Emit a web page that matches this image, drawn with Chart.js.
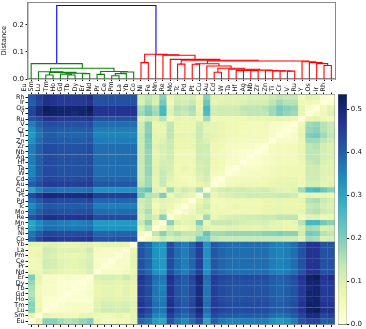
<!DOCTYPE html>
<html>
<head>
<meta charset="utf-8">
<title>Element distance clustermap</title>
<script src="https://cdn.jsdelivr.net/npm/chart.js@4.4.0/dist/chart.umd.js"></script>
<style>
  html, body { margin:0; padding:0; background:#fff; }
  #page { position:relative; width:366px; height:329px; overflow:hidden; filter:blur(.3px); }
  canvas { position:absolute; display:block; }
</style>
</head>
<body>
<div id="page">
  <canvas id="dendro" style="left:0;top:0"></canvas>
  <canvas id="heat" style="left:0;top:80px"></canvas>
  <canvas id="cbar" style="left:336px;top:80px"></canvas>
</div>
<script>
// leaf order of the dendrogram, left to right (bottom to top on the heatmap)
const leaves = ['Eu','Sm','Lu','Tm','Ho','Gd','Tb','Dy','Er','Nd','Pr','Ce','Pm','La','Yb','Co','Ni','Fe','Mn','Re','Mo','Tc','Pd','Pt','Cu','Au','Cd','W','Ta','Hf','Ag','Nb','Zr','Zn','Ti','Cr','V','Ru','Y','Os','Ir','Rh'];

// [left, right, merge height]
const ruBranch = ['Ru',['Y',['Os',['Ir','Rh',.05],.0568],.0605],.064];
const taBranch = [['Ta','Hf',.031],['Ag','Nb',.031],.032];
const zrBranch = ['Zr',['Zn',['Ti',['Cr','V',.029],.0295],.03],.0305];
const pdBranch = [['Pd','Pt',.0545],['Cu',[['Au','Cd',.025],['W',[taBranch,zrBranch,.033],.0358],.04],.048],.0565];
const redTree = [['Co','Ni',.0605],['Fe',['Mn',['Re',[['Mo','Tc',.055],[pdBranch,ruBranch,.0665],.0695],.0725],.088],.0895],.0915];
const greenTree = ['Eu',[['Sm',[['Lu','Tm',.015],[['Ho',['Gd','Tb',.015],.018],['Dy','Er',.02],.021],.0245],.027],[['Nd','Pr',.017],[[['Ce','Pm',.012],'La',.02],'Yb',.026],.028],.04],.057];
const rootHeight = .272;

// distances, lower triangle: row i holds the values against leaves 0..i-1
const distances = [
/*Eu*/[],
/*Sm*/[.07],
/*Lu*/[.19,.07],
/*Tm*/[.19,.06,.02],
/*Ho*/[.17,.06,.02,.02],
/*Gd*/[.15,.05,.03,.03,.02],
/*Tb*/[.16,.05,.03,.03,.02,.02],
/*Dy*/[.18,.07,.03,.03,.02,.02,.01],
/*Er*/[.20,.08,.03,.03,.02,.03,.02,.02],
/*Nd*/[.07,.06,.10,.09,.08,.07,.07,.08,.10],
/*Pr*/[.05,.06,.12,.11,.09,.08,.08,.09,.11,.03],
/*Ce*/[.05,.06,.12,.11,.09,.08,.08,.09,.11,.03,.02],
/*Pm*/[.06,.07,.11,.10,.08,.07,.07,.08,.10,.03,.03,.03],
/*La*/[.06,.06,.12,.11,.09,.09,.09,.09,.12,.04,.03,.03,.03],
/*Yb*/[.08,.08,.09,.09,.08,.07,.07,.08,.09,.07,.08,.08,.08,.07],
/*Co*/[.39,.44,.47,.47,.46,.46,.46,.46,.47,.42,.42,.42,.42,.42,.42],
/*Ni*/[.37,.41,.44,.44,.43,.43,.43,.43,.44,.39,.39,.39,.39,.39,.39,.04],
/*Fe*/[.31,.35,.38,.38,.37,.37,.37,.37,.38,.33,.33,.33,.33,.33,.33,.08,.14],
/*Mn*/[.30,.34,.37,.37,.36,.36,.35,.36,.37,.32,.32,.32,.32,.32,.32,.13,.19,.05],
/*Re*/[.42,.45,.48,.48,.47,.47,.47,.47,.48,.43,.43,.43,.43,.43,.43,.10,.14,.11,.19],
/*Mo*/[.37,.40,.43,.43,.42,.42,.42,.42,.43,.38,.38,.38,.38,.38,.38,.12,.16,.06,.10,.05],
/*Tc*/[.34,.38,.41,.41,.40,.40,.40,.40,.41,.36,.36,.36,.36,.36,.36,.11,.14,.05,.08,.07,.03],
/*Pd*/[.38,.41,.44,.44,.43,.43,.43,.43,.44,.39,.39,.39,.39,.39,.39,.12,.14,.07,.09,.08,.06,.04],
/*Pt*/[.43,.47,.50,.50,.49,.49,.49,.49,.50,.45,.45,.45,.45,.45,.45,.21,.15,.14,.20,.06,.10,.09,.07],
/*Cu*/[.30,.35,.38,.38,.37,.37,.37,.37,.38,.33,.33,.33,.33,.33,.33,.20,.23,.09,.07,.17,.09,.12,.10,.16],
/*Au*/[.40,.43,.46,.46,.45,.45,.45,.45,.46,.41,.41,.41,.41,.41,.41,.14,.17,.08,.13,.07,.06,.06,.05,.07,.09],
/*Cd*/[.37,.41,.44,.44,.43,.43,.43,.43,.44,.39,.39,.39,.39,.39,.39,.13,.17,.08,.13,.09,.06,.05,.05,.09,.11,.02],
/*W */[.35,.40,.43,.43,.42,.42,.42,.42,.43,.38,.38,.38,.38,.38,.38,.13,.18,.09,.13,.10,.06,.06,.06,.10,.12,.05,.04],
/*Ta*/[.35,.40,.43,.43,.42,.42,.42,.42,.43,.38,.38,.38,.38,.38,.38,.13,.18,.09,.12,.11,.06,.07,.06,.11,.12,.06,.05,.02],
/*Hf*/[.36,.40,.43,.43,.42,.42,.42,.42,.43,.38,.38,.38,.38,.38,.38,.13,.18,.08,.11,.11,.06,.06,.06,.11,.12,.06,.05,.03,.03],
/*Ag*/[.36,.40,.43,.43,.42,.42,.42,.42,.43,.38,.38,.38,.38,.38,.38,.13,.18,.08,.10,.12,.06,.06,.06,.12,.11,.06,.05,.04,.03,.02],
/*Nb*/[.36,.40,.43,.43,.42,.42,.42,.42,.43,.38,.38,.38,.38,.38,.38,.13,.18,.08,.10,.12,.06,.06,.06,.12,.11,.06,.05,.04,.03,.02,.02],
/*Zr*/[.36,.40,.43,.43,.42,.42,.42,.42,.43,.38,.38,.38,.38,.38,.38,.13,.19,.09,.11,.13,.07,.07,.07,.12,.12,.06,.06,.04,.04,.03,.03,.02],
/*Zn*/[.33,.38,.41,.41,.40,.40,.40,.40,.41,.36,.36,.36,.36,.36,.36,.13,.19,.08,.09,.13,.07,.07,.07,.12,.10,.07,.06,.05,.05,.04,.04,.04,.04],
/*Ti*/[.32,.37,.40,.40,.39,.39,.39,.39,.40,.35,.35,.35,.35,.35,.35,.13,.20,.08,.08,.14,.08,.08,.08,.13,.09,.08,.07,.06,.06,.05,.05,.05,.05,.03],
/*Cr*/[.33,.38,.41,.41,.40,.40,.40,.40,.41,.36,.36,.36,.36,.36,.36,.12,.19,.07,.07,.14,.07,.07,.07,.13,.08,.08,.07,.06,.06,.05,.05,.05,.05,.03,.02],
/*V */[.36,.40,.43,.43,.42,.42,.42,.42,.43,.38,.38,.38,.38,.38,.38,.12,.19,.07,.08,.14,.07,.07,.07,.12,.09,.08,.07,.06,.06,.05,.05,.05,.05,.03,.03,.02],
/*Ru*/[.42,.44,.47,.47,.46,.46,.46,.46,.47,.42,.42,.42,.42,.42,.42,.09,.12,.10,.15,.05,.08,.07,.08,.06,.17,.06,.06,.06,.06,.06,.07,.07,.07,.07,.08,.07,.06],
/*Y */[.44,.49,.52,.52,.51,.51,.50,.51,.52,.47,.47,.47,.47,.47,.47,.17,.21,.17,.26,.09,.14,.13,.15,.08,.25,.11,.12,.12,.12,.13,.14,.14,.14,.17,.20,.18,.17,.07],
/*Os*/[.44,.49,.53,.52,.51,.51,.51,.51,.53,.47,.47,.47,.47,.47,.47,.16,.20,.16,.26,.09,.15,.14,.16,.07,.26,.11,.12,.12,.12,.14,.14,.14,.15,.17,.21,.19,.18,.08,.03],
/*Ir*/[.40,.44,.48,.47,.46,.46,.46,.46,.47,.42,.42,.42,.42,.42,.42,.10,.15,.10,.21,.06,.12,.11,.13,.07,.22,.08,.09,.09,.09,.10,.11,.11,.11,.14,.17,.15,.15,.06,.06,.05],
/*Rh*/[.41,.45,.48,.47,.46,.46,.46,.46,.48,.42,.42,.42,.42,.42,.42,.11,.14,.11,.19,.07,.11,.10,.11,.06,.19,.09,.08,.09,.09,.09,.10,.10,.10,.12,.14,.13,.13,.05,.09,.08,.02]
];

const colorbarMax = .534;
const colorbarTicks = [0, .1, .2, .3, .4, .5];
const distanceTicks = [0, .1, .2];
const ylgnbu = ['#ffffd9','#edf8b1','#c7e9b4','#7fcdbb','#41b6c4','#1d91c0','#225ea8','#253494','#081d58'];

const tickFont = { family:'"DejaVu Sans"', size:7 };
const leafFont = { family:'"DejaVu Sans"', size:6.4 };
const spine = '#8a8a8a';
const ink = '#111';

function hexToRgb(h){ return [1,3,5].map(k=>parseInt(h.slice(k,k+2),16)); }
function colorOf(v){
  const t = Math.min(v/colorbarMax,1)*(ylgnbu.length-1);
  const k = Math.min(Math.floor(t),ylgnbu.length-2);
  const a = hexToRgb(ylgnbu[k]), b = hexToRgb(ylgnbu[k+1]), f = t-k;
  return `rgb(${a.map((c,n)=>Math.round(c+(b[n]-c)*f)).join(',')})`;
}
function distance(i,j){ if(i===j) return 0; return i>j ? distances[i][j] : distances[j][i]; }

// fixed axis thickness so the three charts line up, and no extra room for label overhang
const fit = size => s => {
  if(s.isHorizontal()) s.height = size; else s.width = size;
  s.paddingTop = s.paddingBottom = s.paddingLeft = s.paddingRight = 0;
};
const frameAxis = (position,extra={}) => ({ position, display:true, grid:{display:false}, border:{display:true,color:spine,width:1}, ticks:{display:false}, afterFit:fit(0), ...extra });

// ---- dendrogram
const linkSets = [];
function addLink(a,b,h,color){
  linkSets.push({ data:[{x:a.x,y:a.h},{x:a.x,y:h},{x:b.x,y:h},{x:b.x,y:b.h}], borderColor:color, borderWidth:1.1, showLine:true, pointRadius:0, fill:false, tension:0, xAxisID:'x', yAxisID:'y' });
}
function walk(node,color){
  if(typeof node==='string') return { x:5+10*leaves.indexOf(node), h:0 };
  const a = walk(node[0],color), b = walk(node[1],color);
  addLink(a,b,node[2],color);
  return { x:(a.x+b.x)/2, h:node[2] };
}
const greenRoot = walk(greenTree,'#0a820a');
const redRoot = walk(redTree,'#ff0000');
addLink(greenRoot,redRoot,rootHeight,'#0000ff');

const dendroCanvas = document.getElementById('dendro');
dendroCanvas.width = 340; dendroCanvas.height = 84;
new Chart(dendroCanvas,{
  type:'scatter',
  data:{ datasets:linkSets },
  options:{
    responsive:false, animation:false,
    layout:{ autoPadding:false, padding:{ top:2.5, right:5, left:0, bottom:0 } },
    plugins:{ legend:{display:false}, tooltip:{enabled:false} },
    scales:{
      x:{ type:'linear', position:'bottom', min:0, max:leaves.length*10,
          grid:{display:true,drawOnChartArea:false,drawTicks:true,tickLength:2,color:ink},
          border:{display:true,color:spine,width:1.5},
          ticks:{ autoSkip:false, padding:0, callback:()=>'' },
          afterBuildTicks:s=>{ s.ticks = leaves.map((_,i)=>({value:5+10*i})); },
          afterFit:fit(5) },
      top:frameAxis('top',{ type:'linear', min:0, max:1 }),
      y:{ type:'linear', position:'left', min:0, max:.283,
          title:{ display:true, text:'Distance', color:ink, font:{...tickFont,size:6.8}, padding:0 },
          grid:{display:true,drawOnChartArea:false,drawTicks:true,tickLength:2,color:ink},
          border:{display:true,color:spine,width:1.5},
          ticks:{ color:ink, font:tickFont, padding:1.5, includeBounds:false, callback:v=>v.toFixed(1) },
          afterBuildTicks:s=>{ s.ticks = distanceTicks.map(value=>({value})); },
          afterFit:fit(27.5) },
      right:frameAxis('right',{ type:'linear', min:0, max:1 })
    }
  }
});

// ---- heatmap: one floating bar per cell, one dataset per row
const heatCanvas = document.getElementById('heat');
heatCanvas.width = 337; heatCanvas.height = 249;
new Chart(heatCanvas,{
  type:'bar',
  data:{
    labels:leaves,
    datasets:leaves.map((name,i)=>({
      label:name,
      data:leaves.map(()=>[i,i+1.04]),
      backgroundColor:leaves.map((_,j)=>colorOf(distance(i,j))),
      borderWidth:0, barPercentage:1.04, categoryPercentage:1, grouped:false, xAxisID:'x', yAxisID:'y'
    }))
  },
  options:{
    responsive:false, animation:false,
    layout:{ autoPadding:false, padding:{ top:0, right:2.3, left:0, bottom:0 } },
    plugins:{ legend:{display:false}, tooltip:{enabled:false} },
    scales:{
      x:{ type:'category', position:'top', offset:true,
          grid:{display:true,drawOnChartArea:false,drawTicks:true,tickLength:2,color:ink,offset:false},
          border:{display:true,color:spine,width:1},
          ticks:{ autoSkip:false, color:ink, font:leafFont, padding:1, minRotation:90, maxRotation:90 },
          afterFit:fit(14.5) },
      bottom:{ type:'category', position:'bottom', labels:leaves, offset:true,
          grid:{display:true,drawOnChartArea:false,drawTicks:true,tickLength:3,color:ink,offset:false},
          border:{display:true,color:spine,width:1},
          ticks:{ autoSkip:false, maxRotation:0, padding:0, callback:()=>'' },
          afterFit:fit(5) },
      y:{ type:'linear', position:'left', min:0, max:leaves.length,
          grid:{display:true,drawOnChartArea:false,drawTicks:true,tickLength:2.5,color:ink},
          border:{display:true,color:spine,width:1},
          ticks:{ autoSkip:false, color:ink, font:leafFont, padding:1, includeBounds:false, callback:v=>leaves[v-.5] },
          afterBuildTicks:s=>{ s.ticks = leaves.map((_,i)=>({value:i+.5})); },
          afterFit:fit(28) },
      right:frameAxis('right',{ type:'linear', min:0, max:1 })
    }
  }
});

// ---- colourbar: a single floating bar filled with the colour map
const cbarCanvas = document.getElementById('cbar');
cbarCanvas.width = 30; cbarCanvas.height = 249;
new Chart(cbarCanvas,{
  type:'bar',
  data:{
    labels:[''],
    datasets:[{
      data:[[0,colorbarMax]],
      xAxisID:'x', yAxisID:'y',
      borderWidth:0, barPercentage:1, categoryPercentage:1,
      backgroundColor:c=>{
        const a = c.chart.chartArea;
        if(!a) return '#41b6c4';
        const g = c.chart.ctx.createLinearGradient(0,a.bottom,0,a.top);
        ylgnbu.forEach((col,i)=>g.addColorStop(i/(ylgnbu.length-1),col));
        return g;
      }
    }]
  },
  options:{
    responsive:false, animation:false,
    layout:{ autoPadding:false, padding:{ top:14.5, right:0, left:2.3, bottom:5 } },
    plugins:{ legend:{display:false}, tooltip:{enabled:false} },
    scales:{
      x:frameAxis('bottom',{ type:'category' }),
      top:frameAxis('top',{ type:'linear', min:0, max:1 }),
      left:frameAxis('left',{ type:'linear', min:0, max:1 }),
      y:{ type:'linear', position:'right', min:0, max:colorbarMax,
          grid:{display:true,drawOnChartArea:false,drawTicks:true,tickLength:2.5,color:ink},
          border:{display:true,color:spine,width:1},
          ticks:{ color:ink, font:tickFont, padding:1.5, includeBounds:false, callback:v=>v.toFixed(1) },
          afterBuildTicks:s=>{ s.ticks = colorbarTicks.map(value=>({value})); },
          afterFit:fit(19.3) }
    }
  }
});
</script>
</body>
</html>
